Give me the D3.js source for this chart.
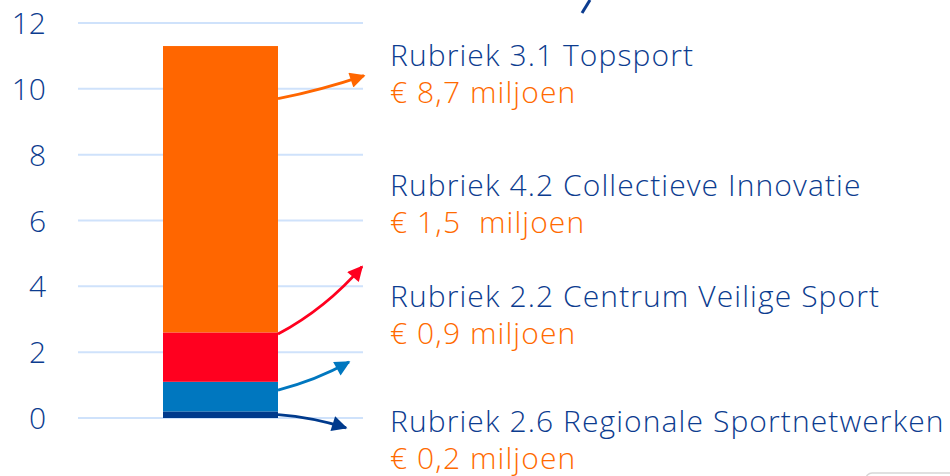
<!DOCTYPE html>
<html>
<head>
<meta charset="utf-8">
<script src="https://cdn.jsdelivr.net/npm/d3@7"></script>
<style>
  body { margin: 0; background: #fff; }
  svg { display: block; font-family: "Open Sans", "Noto Sans", sans-serif; font-variant-ligatures: none; }
</style>
</head>
<body>
<div id="container"></div>
<script>
let w = 950;
let h = 476;

// DATA (stacked bottom to top)
let categories = ["Rubriek 2.6 Regionale Sportnetwerken", "Rubriek 2.2 Centrum Veilige Sport", "Rubriek 4.2 Collectieve Innovatie", "Rubriek 3.1 Topsport"];
let keys = ["r26", "r22", "r42", "r31"];
let values = [0.2, 0.9, 1.5, 8.7];
let amountLabels = ["€ 0,2 miljoen", "€ 0,9 miljoen", "€ 1,5  miljoen", "€ 8,7 miljoen"];
let colors = ["#003a8c", "#0077bf", "#ff001f", "#ff6600"];
let yTicks = [0, 2, 4, 6, 8, 10, 12];

let navy = "#0c3c8f";
let orange = "#ff6a00";

let viz = d3.select("#container").append("svg")
    .attr("width", w)
    .attr("height", h);

let y = d3.scaleLinear().domain([0, 12]).range([418, 23]);
let x = d3.scaleBand().domain(["totaal"]).range([78, 363]).padding(0.425);

// gridlines
viz.selectAll(".grid").data(yTicks).enter().append("line")
    .attr("class", "grid")
    .attr("x1", 78).attr("x2", 363)
    .attr("y1", d => y(d)).attr("y2", d => y(d))
    .attr("stroke", "#cfe2fb")
    .attr("stroke-width", 2);

// y axis labels
viz.selectAll(".tick").data(yTicks).enter().append("text")
    .attr("class", "tick")
    .attr("x", 46)
    .attr("y", d => y(d) + 11)
    .attr("text-anchor", "end")
    .attr("font-size", 30)
    .attr("font-weight", 300)
    .attr("fill", navy)
    .text(d => d);

// stacked bar
let row = {};
keys.forEach((k, i) => row[k] = values[i]);
let stacked = d3.stack().keys(keys)([row]);

viz.selectAll(".seg").data(stacked).enter().append("rect")
    .attr("class", "seg")
    .attr("x", x("totaal"))
    .attr("width", x.bandwidth())
    .attr("y", d => y(d[0][1]))
    .attr("height", d => y(d[0][0]) - y(d[0][1]))
    .attr("fill", (d, i) => colors[i]);

// arrows: start value on the bar, tip (value) and bend
let arrows = [
  {from: 0.1, tipX: 349, tip: -0.3, bend: -4},
  {from: 0.85, tipX: 352, tip: 1.7, bend: 5},
  {from: 2.55, tipX: 365, tip: 4.6, bend: 10},
  {from: 9.7, tipX: 367, tip: 10.4, bend: 3}
];

let defs = viz.append("defs");
colors.forEach((c, i) => {
  defs.append("marker")
      .attr("id", "head" + i)
      .attr("viewBox", "0 0 10 10")
      .attr("refX", 9).attr("refY", 5)
      .attr("markerWidth", 6.5).attr("markerHeight", 5.5)
      .attr("markerUnits", "strokeWidth")
      .attr("orient", "auto")
    .append("path")
      .attr("d", "M0,0 L10,5 L0,10 Z")
      .attr("fill", c);
});

let x0 = x("totaal") + x.bandwidth();
viz.selectAll(".arrow").data(arrows).enter().append("path")
    .attr("class", "arrow")
    .attr("fill", "none")
    .attr("stroke", (d, i) => colors[i])
    .attr("stroke-width", 2.8)
    .attr("marker-end", (d, i) => "url(#head" + i + ")")
    .attr("d", d => {
      let sx = x0, sy = y(d.from), tx = d.tipX - 3, ty = y(d.tip);
      let mx = (sx + tx) / 2, my = (sy + ty) / 2;
      let dx = tx - sx, dy = ty - sy, len = Math.hypot(dx, dy);
      let cx = mx - dy / len * d.bend, cy = my + dx / len * d.bend;
      return "M" + sx + "," + sy + " Q" + cx + "," + cy + " " + tx + "," + ty;
    });

// labels
let labelY = [432, 307, 196, 66];
let labels = viz.selectAll(".lbl").data(categories).enter().append("g")
    .attr("class", "lbl")
    .attr("transform", (d, i) => "translate(390," + labelY[i] + ")");
labels.append("text")
    .attr("font-size", 30)
    .attr("font-weight", 300)
    .attr("letter-spacing", 1.1)
    .attr("fill", navy)
    .text(d => d);
labels.append("text")
    .attr("y", 37)
    .attr("font-size", 30)
    .attr("font-weight", 300)
    .attr("letter-spacing", 1.1)
    .attr("fill", orange)
    .attr("xml:space", "preserve")
    .style("white-space", "pre")
    .text((d, i) => amountLabels[i]);

// cut-off stroke at top
viz.append("line")
    .attr("x1", 590).attr("y1", 0).attr("x2", 582).attr("y2", 13)
    .attr("stroke", navy).attr("stroke-width", 3);

// cut-off box bottom right
viz.append("rect")
    .attr("x", 866).attr("y", 473).attr("width", 100).attr("height", 20)
    .attr("rx", 6)
    .attr("fill", "#fff").attr("stroke", "#d6d6d6").attr("stroke-width", 1.5);
</script>
</body>
</html>
